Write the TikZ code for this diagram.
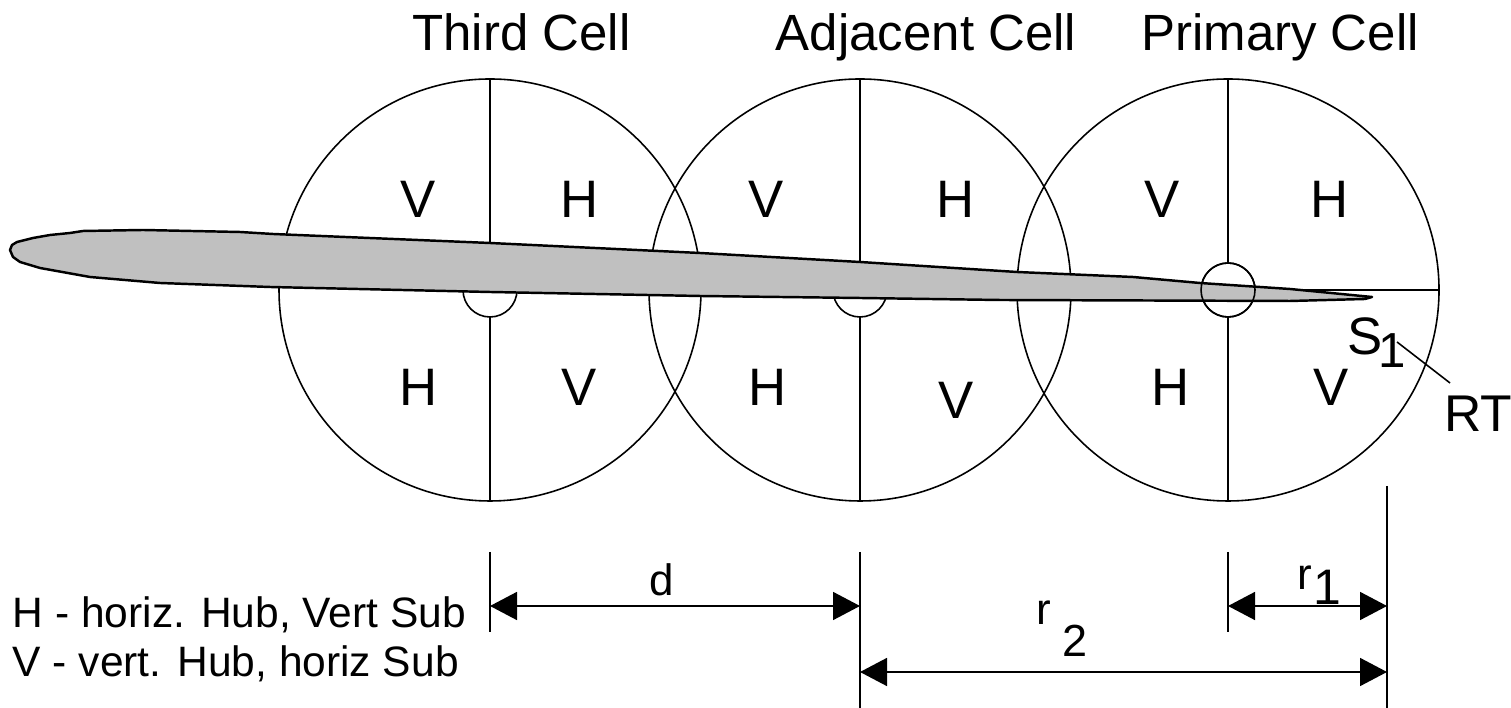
\documentclass[tikz,border=0pt]{standalone}
\usepackage{fontspec}
\setmainfont{Liberation Sans}
\usetikzlibrary{arrows.meta}

\definecolor{bladegray}{RGB}{192,192,192}

\tikzset{
	cellline/.style={line width=0.45pt},
	blade/.style={fill=bladegray, line width=0.7pt, line join=round},
	quad/.style={inner sep=0pt, font=\fontsize{15}{18}\selectfont},
	celltitle/.style={inner sep=0pt, anchor=base, font=\fontsize{14.5}{17}\selectfont},
	dimlabel/.style={inner sep=0pt, anchor=base, font=\fontsize{12.5}{15}\selectfont},
	legend/.style={inner sep=0pt, anchor=base west, font=\fontsize{12.1}{14}\selectfont},
}

\begin{document}
\begin{tikzpicture}[cellline, >={Triangle[length=2.7mm,width=2.8mm]}]
\useasboundingbox (0,0) rectangle (15.11,7.08);

				% the three cells, each split in two by its mast line
				\foreach \cx in {4.90,8.60,12.28} {
					\draw (\cx,4.18) circle [radius=2.11];
					\draw (\cx,6.29) -- (\cx,4.45);
					\draw (\cx,3.91) -- (\cx,2.07);
					\draw (\cx,4.18) circle [radius=0.27];
				}
				\draw (12.55,4.18) -- (14.39,4.18);

				% blade lying across the cells
				\draw [blade] (0.10,4.58) -- (0.12,4.63) -- (0.17,4.66) -- (0.33,4.70)
					-- (0.50,4.73) -- (0.70,4.75) -- (0.83,4.77) -- (1.43,4.78)
					-- (2.40,4.76) -- (2.73,4.74) -- (4.90,4.65) -- (7.00,4.55)
					-- (8.60,4.46) -- (10.17,4.36) -- (11.33,4.31) -- (12.00,4.25)
					-- (12.90,4.19) -- (13.72,4.11) -- (13.65,4.09) -- (12.90,4.07)
					-- (10.00,4.08) -- (8.60,4.10) -- (7.00,4.12) -- (4.90,4.16)
					-- (2.70,4.21) -- (1.60,4.25) -- (0.90,4.31) -- (0.40,4.40)
					-- (0.20,4.46) -- (0.13,4.51) -- cycle;
				\draw (12.28,4.18) circle [radius=0.27];

				% titles
				\node [celltitle] (third) at (5.215,6.57) {Third Cell};
				\node [celltitle] (adjacent) at (9.26,6.57) {Adjacent Cell};
				\node [celltitle] (primary) at (12.80,6.57) {Primary Cell};

				% quadrant letters
				\foreach \x/\y/\t [count=\i] in {4.18/5.09/V, 5.80/5.09/H, 4.19/3.21/H, 5.79/3.21/V,
						7.66/5.09/V, 9.56/5.09/H, 7.68/3.21/H, 9.56/3.08/V,
						11.62/5.09/V, 13.30/5.09/H, 11.71/3.21/H, 13.31/3.21/V}
					\node [quad] (q\i) at (\x,\y) {\t};

				% S1 and RT
				\node [quad, anchor=base west] (s) at (13.47,3.53)
					{S\kern-0.08em\raisebox{-0.13cm}{\fontsize{14}{16}\selectfont 1}};
				\node [quad, anchor=base, font=\fontsize{14.7}{17}\selectfont] (rt) at (14.78,2.76) {RT};
				\coordinate (lead1) at (13.97,3.66);
				\coordinate (lead2) at (14.50,3.25);
				\draw (lead1) -- (lead2);

				% extension lines
				\coordinate (e1t) at (4.90,1.56);  \coordinate (e1b) at (4.90,0.76);
				\coordinate (e2t) at (8.60,1.56);  \coordinate (e2b) at (8.60,0);
				\coordinate (e3t) at (12.28,1.56); \coordinate (e3b) at (12.28,0.76);
				\coordinate (e4t) at (13.87,2.22); \coordinate (e4b) at (13.87,0);
				\draw (e1t) -- (e1b);
				\draw (e2t) -- (e2b);
				\draw (e3t) -- (e3b);
				\draw (e4t) -- (e4b);

				% dimensions
				\coordinate (dL) at (4.90,1.02);   \coordinate (dR) at (8.60,1.02);
				\coordinate (rA) at (12.28,1.02);  \coordinate (rB) at (13.87,1.02);
				\coordinate (rC) at (8.60,0.36);   \coordinate (rD) at (13.87,0.36);
				\draw [<->] (dL) -- (dR);
				\draw [<->] (rA) -- (rB);
				\draw [<->] (rC) -- (rD);
				\node [dimlabel] (d) at (6.62,1.12) {d};
				\node [dimlabel, anchor=base west] (rone) at (12.97,1.18)
					{r\kern0.02em\raisebox{-0.15cm}{\fontsize{14.2}{17}\selectfont 1}};
				\node [dimlabel] (rtwo) at (10.435,0.83) {r};
				\node [dimlabel, font=\fontsize{12.8}{15}\selectfont] (rsubtwo) at (10.75,0.51) {2};

				% legend
				\node [legend] (legH) at (0.12,0.80) {H - horiz. Hub, Vert Sub};
				\node [legend] (legV) at (0.12,0.31) {V - vert. Hub, horiz Sub};

\end{tikzpicture}
\end{document}
